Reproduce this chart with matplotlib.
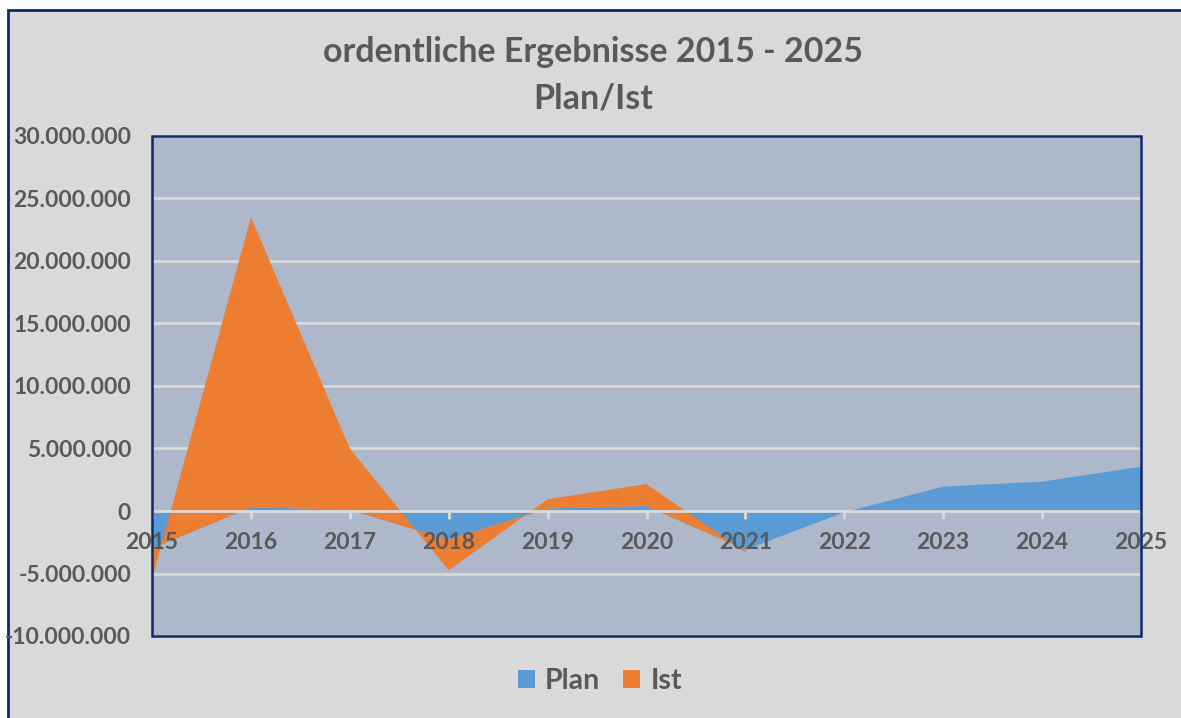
import matplotlib
matplotlib.use("Agg")
import matplotlib.pyplot as plt
from matplotlib.patches import Rectangle, Patch
from matplotlib.ticker import FuncFormatter, MultipleLocator
import numpy as np

# ---- data (values in EUR) ----
years = [2015, 2016, 2017, 2018, 2019, 2020, 2021, 2022, 2023, 2024, 2025]
plan = [-3_000_000, 300_000, 100_000, -2_300_000, 200_000, 400_000,
        -3_100_000, -100_000, 1_950_000, 2_350_000, 3_550_000]
ist_years = [2015, 2016, 2017, 2018, 2019, 2020, 2021]
ist = [-2_500_000, 23_200_000, 4_900_000, -2_450_000, 740_000, 1_760_000, -200_000]

title = "ordentliche Ergebnisse 2015 - 2025\nPlan/Ist"
series_names = ["Plan", "Ist"]

# ---- style ----
W, H = 1181, 718
C_PLAN = "#5B9BD5"
C_IST = "#ED7D31"
C_PLOT = "#ADB9CA"
C_CHART = "#D9D9D9"
C_GRID = "#D9D9D9"
C_NAVY = "#0E2A6B"
C_TEXT = "#595959"
FONT = ["Lato", "DejaVu Sans"]
plt.rcParams["font.family"] = FONT

fig = plt.figure(figsize=(W / 100, H / 100), dpi=100, facecolor="white")
fig.add_artist(Rectangle((8 / W, -0.1), 1.2, 1 - 10 / H + 0.1, transform=fig.transFigure,
                         facecolor=C_CHART, edgecolor=C_NAVY, linewidth=2, zorder=0))

L, R, T, B = 152, 1141, 136, 636
ax = fig.add_axes([L / W, 1 - B / H, (R - L) / W, (B - T) / H])
ax.set_facecolor(C_PLOT)

# stacked area (Plan at bottom, Ist stacked on top)
plan_arr = np.array(plan, dtype=float)
ax.fill_between(years, 0, plan_arr, facecolor=C_PLAN, linewidth=0, zorder=1)
base = plan_arr[:len(ist)]
ax.fill_between(ist_years, base, base + np.array(ist, dtype=float),
                facecolor=C_IST, linewidth=0, zorder=1.1)

ax.set_xlim(2015, 2025)
ax.set_ylim(-10_000_000, 30_000_000)
ax.yaxis.set_major_locator(MultipleLocator(5_000_000))
ax.yaxis.set_major_formatter(FuncFormatter(lambda v, p: f"{int(round(v)):,}".replace(",", ".")))
ax.set_axisbelow(True)
ax.grid(axis="y", color=C_GRID, linewidth=2)
ax.grid(axis="x", visible=False)
ax.xaxis.set_zorder(3)

for s in ["top", "left", "right"]:
    ax.spines[s].set_visible(False)
ax.spines["bottom"].set_position(("data", 0))
ax.spines["bottom"].set_color(C_GRID)
ax.spines["bottom"].set_linewidth(2)
ax.spines["bottom"].set_zorder(3)

ax.set_xticks(years)
ax.set_xticklabels([str(y) for y in years])
ax.tick_params(axis="x", direction="out", length=6, width=2, color=C_GRID, pad=9,
               labelsize=16.5, labelcolor=C_TEXT)
ax.tick_params(axis="y", length=0, pad=15, labelsize=16.5, labelcolor=C_TEXT)
for lab in ax.get_xticklabels() + ax.get_yticklabels():
    lab.set_fontweight("bold")

ax.add_patch(Rectangle((0, 0), 1, 1, transform=ax.transAxes, fill=False,
                       edgecolor=C_NAVY, linewidth=1.8, zorder=4, clip_on=False))

fig.text(593 / W, 1 - 52 / H, title.split("\n")[0], ha="center", va="center", fontsize=24.5,
         fontweight="bold", color=C_TEXT)
fig.text(593 / W, 1 - 99 / H, title.split("\n")[1], ha="center", va="center", fontsize=24.5,
         fontweight="bold", color=C_TEXT)

handles = [Patch(facecolor=C_PLAN, edgecolor="none"), Patch(facecolor=C_IST, edgecolor="none")]
fig.legend(handles, series_names, loc="center", bbox_to_anchor=(600 / W, 1 - 681 / H),
           ncol=2, frameon=False, handlelength=0.6, handleheight=0.6, handletextpad=0.35,
           columnspacing=0.8, prop={"family": FONT, "weight": "bold", "size": 20.5},
           labelcolor=C_TEXT)

fig.savefig("out.png", dpi=100, facecolor="white")
